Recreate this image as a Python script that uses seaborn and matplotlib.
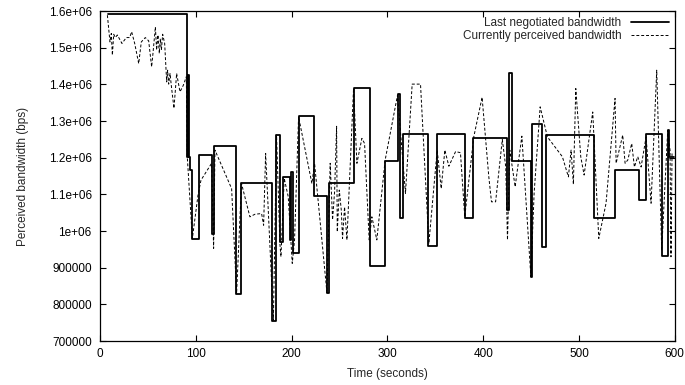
import pandas as pd
import matplotlib
matplotlib.use('Agg')
import matplotlib.pyplot as plt
from matplotlib.ticker import FuncFormatter
import seaborn as sns

# Last negotiated bandwidth (step changes: time, value)
neg_time = [8, 91.1, 92.3, 93.3, 94.2, 95.6, 103.3, 117.2, 118.8, 141.6, 147.7,
            179.8, 183.3, 187.5, 191, 198.6, 199.8, 201.5, 207.3, 223.3, 237.2,
            239.3, 264.7, 281.4, 297.7, 310.6, 312.7, 316.1, 342.6, 351.6, 380.8,
            389.2, 424.4, 427.2, 429.9, 449.8, 451.5, 461.2, 465.4, 515.5, 538.1,
            563.1, 570.1, 586.4, 592.7, 593.7, 599.6]
neg_bw = [1592000, 1203000, 1425000, 1203000, 1168000, 979000, 1207000, 992000,
          1232000, 828000, 1132000, 756000, 1262000, 969000, 1148000, 976000,
          1162000, 941000, 1314000, 1097000, 832000, 1130000, 1391000, 905000,
          1191000, 1374000, 1035000, 1266000, 959000, 1266000, 1035000, 1254000,
          1057000, 1430000, 1191000, 876000, 1291000, 957000, 1262000, 1035000,
          1168000, 1085000, 1265000, 932000, 1275000, 1203000, 1203000]

# Currently perceived bandwidth
perc_time = [7.7, 10.4, 11.8, 12.9, 14.3, 16, 18.1, 22.9, 27.5, 31, 33, 36.2, 40.4,
             43.1, 47.3, 50.8, 53.9, 55.3, 57.8, 59.1, 60.5, 61.9, 63, 64.1, 65.4,
             67.5, 69.6, 70.6, 71.7, 73.1, 74.4, 77.2, 80, 83.5, 87, 90.1, 91.1,
             94.6, 96.4, 102.3, 105.4, 116.5, 118.6, 120, 137.4, 142.6, 147.7,
             156.5, 161.7, 168.7, 170.8, 172.9, 181, 184.3, 187.8, 188.9, 192.3,
             196.5, 200.7, 203.1, 207.3, 221.2, 224, 236.9, 240.3, 242.8, 244.9,
             247, 247.7, 249.8, 251.9, 253.2, 255.3, 257.8, 264.7, 268.2, 273.4,
             276.2, 281, 283.8, 289, 297.7, 304.6, 310.6, 318.9, 325.9, 334.6,
             343.3, 352, 356.2, 360, 364.2, 371.2, 376.3, 380.8, 390.2, 398.9,
             405.9, 408.7, 413, 420, 423.6, 425.4, 427.8, 433.4, 440.4, 449.8,
             453.2, 459.5, 467.1, 482.7, 489, 491.8, 494.2, 496.7, 501.9, 505.4,
             514.4, 520.7, 528.3, 537.7, 538.8, 545.7, 548.2, 551, 555.1, 557.9,
             561.4, 564.9, 570.1, 575.3, 581.2, 586.4, 592.7, 595.1, 596.1, 597.2]
perc_bw = [1589000, 1516000, 1539000, 1480000, 1537000, 1528000, 1535000, 1512000,
           1528000, 1528000, 1544000, 1512000, 1457000, 1516000, 1528000, 1519000,
           1448000, 1485000, 1557000, 1494000, 1535000, 1485000, 1525000, 1494000,
           1537000, 1512000, 1407000, 1439000, 1401000, 1430000, 1398000, 1335000,
           1430000, 1380000, 1398000, 1421000, 1203000, 1057000, 980000, 1098000,
           1139000, 1185000, 953000, 1221000, 1116000, 830000, 1130000, 1039000,
           1046000, 1048000, 1016000, 1212000, 757000, 1262000, 966000, 930000,
           1144000, 1094000, 912000, 976000, 1312000, 1130000, 1185000, 832000,
           1185000, 1031000, 1108000, 1286000, 998000, 1112000, 1057000, 980000,
           1066000, 976000, 1389000, 1185000, 1253000, 1239000, 976000, 1039000,
           976000, 1194000, 1289000, 1371000, 1103000, 1401000, 1401000, 966000,
           1221000, 1116000, 1221000, 1177000, 1217000, 1214000, 1039000, 1257000,
           1365000, 1148000, 1080000, 1080000, 1250000, 1175000, 976000, 1221000,
           1121000, 1259000, 876000, 1103000, 1339000, 1257000, 1203000, 1148000,
           1221000, 1128000, 1389000, 1203000, 1153000, 1325000, 980000, 1076000,
           1362000, 1185000, 1262000, 1185000, 1194000, 1239000, 1175000, 1203000,
           1175000, 1257000, 1076000, 1439000, 948000, 1275000, 1221000, 930000,
           1212000]

df_neg = pd.DataFrame({'time': neg_time, 'bw': neg_bw})
df_perc = pd.DataFrame({'time': perc_time, 'bw': perc_bw})

sns.set_style('ticks')
plt.rcParams['font.family'] = ['Liberation Sans', 'DejaVu Sans']

fig = plt.figure(figsize=(6.85, 3.85), dpi=100)
ax = fig.add_axes([0.146, 0.114, 0.839, 0.857])

sns.lineplot(x='time', y='bw', data=df_neg, ax=ax, color='black', linewidth=1.3,
             drawstyle='steps-post', estimator=None, sort=False,
             label='Last negotiated bandwidth')
sns.lineplot(x='time', y='bw', data=df_perc, ax=ax, color='black', linewidth=0.7,
             estimator=None, sort=False, label='Currently perceived bandwidth')
ax.lines[1].set_dashes([3, 2])

ax.set_xlim(0, 600)
ax.set_ylim(700000, 1600000)
ax.set_xticks(range(0, 601, 100))
ax.set_yticks(range(700000, 1600001, 100000))
ax.yaxis.set_major_formatter(FuncFormatter(lambda v, p: '%g' % v))
ax.tick_params(direction='in', top=True, right=True, length=4, width=0.8,
               labelsize=8.5, colors='black')
ax.tick_params(axis='y', pad=6)
ax.tick_params(axis='x', pad=5)
for s in ax.spines.values():
    s.set_linewidth(0.9)
    s.set_color('black')
ax.set_xlabel('Time (seconds)', fontsize=8.5, labelpad=6)
ax.set_ylabel('Perceived bandwidth (bps)', fontsize=8.5, labelpad=14)

leg = ax.legend(loc='upper right', frameon=False, markerfirst=False, fontsize=8.5,
                handlelength=3.2, borderaxespad=0.1, labelspacing=0.05)
for t in leg.get_texts():
    t.set_ha('right')

fig.savefig('out.png', dpi=100)
